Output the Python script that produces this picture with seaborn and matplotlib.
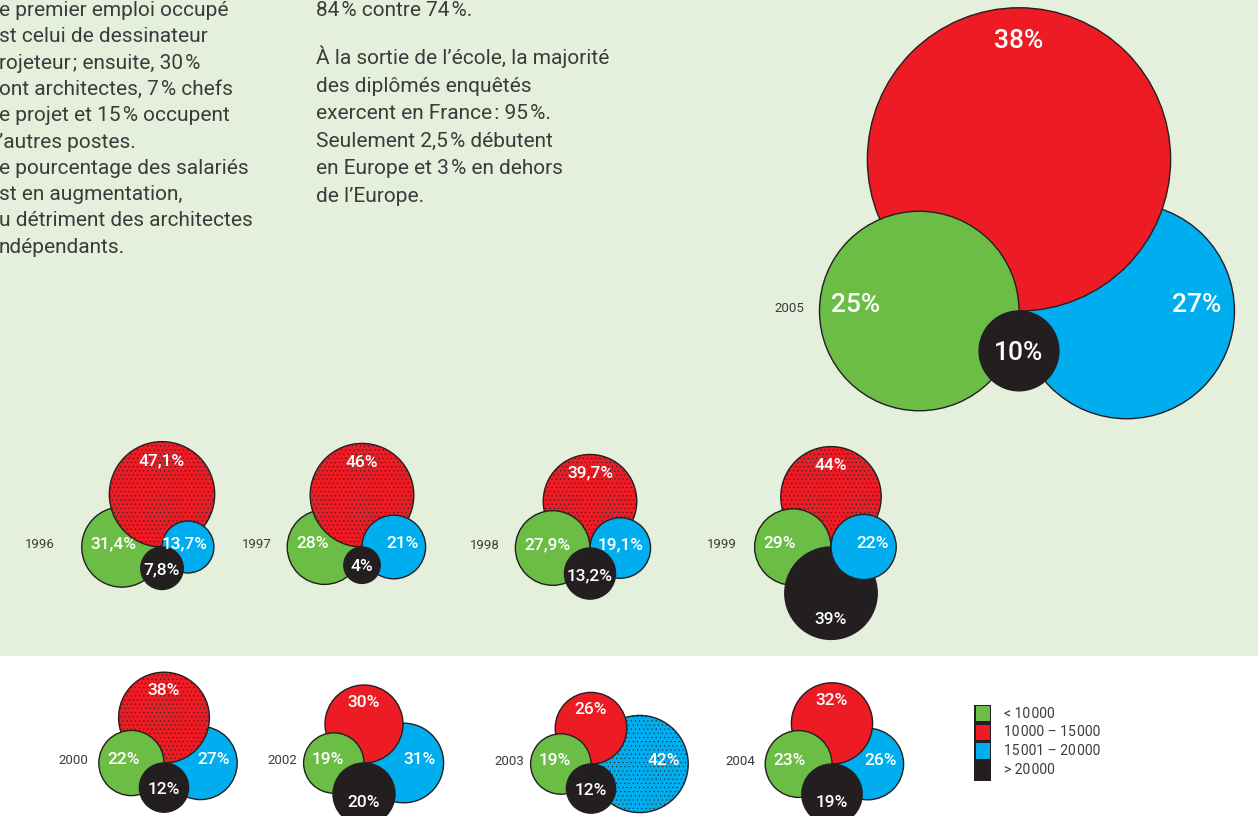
import matplotlib
matplotlib.use("Agg")
import matplotlib.pyplot as plt
from matplotlib.patches import Circle, Rectangle
import seaborn as sns

# Salary bands of the first job, share of graduates per survey year (%)
years = ["1996", "1997", "1998", "1999", "2000", "2002", "2003", "2004"]
share_low = [31.4, 28, 27.9, 29, 22, 19, 19, 23]      # < 10 000
share_mid = [47.1, 46, 39.7, 44, 38, 30, 26, 32]      # 10 000 - 15 000
share_high = [13.7, 21, 19.1, 22, 27, 31, 42, 26]     # 15 001 - 20 000
share_top = [7.8, 4, 13.2, 39, 12, 20, 12, 19]        # > 20 000

year_2005 = "2005"
share_2005 = [25, 38, 27, 10]

band_labels = ["< 10\u200a000", "10\u200a000 – 15\u200a000",
               "15\u200a001 – 20\u200a000", "> 20\u200a000"]

left_text = [
    "e premier emploi occupé",
    "st celui de dessinateur",
    "rojeteur\u200a; ensuite, 30\u200a%",
    "ont architectes, 7\u200a% chefs",
    "e projet et 15\u200a% occupent",
    "’autres postes.",
    "e pourcentage des salariés",
    "st en augmentation,",
    "u détriment des architectes",
    "ndépendants.",
]
mid_text_1 = ["84\u200a% contre 74\u200a%."]
mid_text_2 = [
    "À la sortie de l’école, la majorité",
    "des diplômés enquêtés",
    "exercent en France\u200a: 95\u200a%.",
    "Seulement 2,5\u200a% débutent",
    "en Europe et 3\u200a% en dehors",
    "de l’Europe.",
]

# layout (pixels): point where the four circles of a year touch
touch_points = [(162, 547), (362, 547), (590, 548), (831, 547),
                (164, 763), (364, 763), (591, 764), (832, 764)]
year_x = [40, 257, 485, 722, 73, 282, 509, 740]
touch_2005 = (1019, 311)
year_x_2005 = 789
# drawing order of the bands, bottom to top
orders = [[0, 1, 2, 3], [0, 1, 2, 3], [1, 0, 2, 3], [1, 0, 3, 2],
          [2, 1, 0, 3], [2, 1, 0, 3], [2, 1, 0, 3], [2, 1, 0, 3]]
order_2005 = [2, 1, 0, 3]
dotted = [1, 1, 1, 1, 1, None, 2, None]

sns.set_theme(style="white")
plt.rcParams["font.family"] = ["Roboto", "DejaVu Sans"]
plt.rcParams["hatch.linewidth"] = 0.3

palette = sns.color_palette(["#6cbd45", "#ed1c24", "#00aeef", "#231f20"])
dark = "#231f20"
text_grey = "#3b3b3b"
bg_green = "#e5f0dc"

# direction of each band from the touch point: left, up, right, down
directions = [(-1, 0), (0, -1), (1, 0), (0, 1)]


def small_radius(v):
    return 15 + 0.8 * v


def big_radius(v):
    return 3.99 * v


def fmt(v):
    return f"{v:g}".replace(".", ",") + "%"


def draw_cluster(ax, point, values, radius, order, dotted_band, fsize, year, yx):
    px, py = point
    cap = fsize * 100 / 72 * 0.711
    radii = [radius(v) for v in values]
    for z, b in enumerate(order):
        r = radii[b]
        dx, dy = directions[b]
        c = Circle((px + dx * r, py + dy * r), r, facecolor=palette[b],
                   edgecolor=dark, lw=1.0, zorder=2 + z,
                   hatch="...." if b == dotted_band else None)
        ax.add_patch(c)
    for b, v in enumerate(values):
        r = radii[b]
        if b == 0:
            x, y, ha = px - 2 * r + 7 + 0.05 * r, py + 1, "left"
        elif b == 1:
            x, y, ha = px, py - 2 * r + 10 + 0.14 * r + cap / 2, "center"
        elif b == 2:
            x, y, ha = px + 2 * r - 4 - 0.09 * r, py + 1, "right"
        else:
            x, y, ha = px, py + r + max(0, v - 12) * 0.9 + cap / 2, "center"
        ax.text(x, y, fmt(v), color="white", fontsize=fsize, ha=ha,
                va="baseline", fontweight="medium", zorder=20)
    ax.text(yx, py + 1, year, color=text_grey, fontsize=9.5, ha="center",
            va="baseline", zorder=20)


fig = plt.figure(figsize=(12.58, 8.16), dpi=100)
fig.patch.set_facecolor("white")
ax = fig.add_axes([0, 0, 1, 1])
ax.set_xlim(0, 1258)
ax.set_ylim(816, 0)
ax.axis("off")
ax.axhspan(0, 656, color=bg_green, lw=0, zorder=0)

# body text
for i, line in enumerate(left_text):
    ax.text(-1, 16 + i * 26.3, line, fontsize=15, color=text_grey,
            ha="left", va="baseline")
for i, line in enumerate(mid_text_1):
    ax.text(316, 16.5 + i * 27.4, line, fontsize=15, color=text_grey,
            ha="left", va="baseline")
for i, line in enumerate(mid_text_2):
    ax.text(316, 64.5 + i * 27.4, line, fontsize=15, color=text_grey,
            ha="left", va="baseline")

# small clusters
for i, yr in enumerate(years):
    vals = [share_low[i], share_mid[i], share_high[i], share_top[i]]
    draw_cluster(ax, touch_points[i], vals, small_radius, orders[i],
                 dotted[i], 12.5, yr, year_x[i])

# 2005 cluster
draw_cluster(ax, touch_2005, share_2005, big_radius, order_2005, None,
             19, year_2005, year_x_2005)

# legend column
ax.add_patch(Rectangle((974, 704.5), 17, 4 * 18.7 + 1.5, facecolor=dark,
                       lw=0, zorder=2))
for i, (col, lab) in enumerate(zip(palette, band_labels)):
    y0 = 706 + i * 18.7
    ax.add_patch(Rectangle((975.5, y0), 14, 15.2, facecolor=col, lw=0,
                           zorder=3))
    ax.text(1004, y0 + 7.6, lab, fontsize=10, color=text_grey, ha="left",
            va="center", zorder=3)

fig.savefig("out.png", dpi=100)
